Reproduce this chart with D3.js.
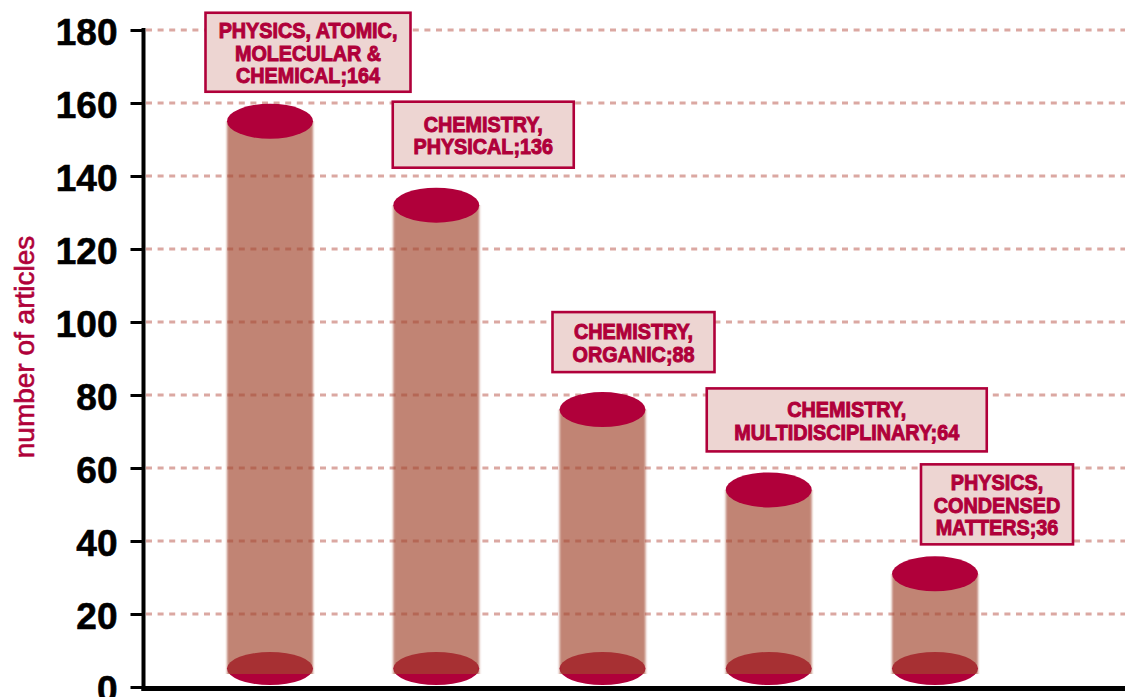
<!DOCTYPE html>
<html>
<head>
<meta charset="utf-8">
<script src="https://cdn.jsdelivr.net/npm/d3@7"></script>
<style>
  body { margin: 0; background: #fff; }
  svg { display: block; }
</style>
</head>
<body>
<div id="chart"></div>
<script>
// data
var categories = ["PHYSICS, ATOMIC, MOLECULAR & CHEMICAL", "CHEMISTRY, PHYSICAL", "CHEMISTRY, ORGANIC",
  "CHEMISTRY, MULTIDISCIPLINARY", "PHYSICS, CONDENSED MATTERS"];
var counts = [164, 136, 88, 64, 36];             // numbers printed in the labels
var levels = [155, 132, 76, 54, 31];             // level on the axis that each cylinder top reaches
var labelLines = [
  ["PHYSICS, ATOMIC,", "MOLECULAR &", "CHEMICAL"],
  ["CHEMISTRY,", "PHYSICAL"],
  ["CHEMISTRY,", "ORGANIC"],
  ["CHEMISTRY,", "MULTIDISCIPLINARY"],
  ["PHYSICS,", "CONDENSED", "MATTERS"]
];
var yTicks = [0, 20, 40, 60, 80, 100, 120, 140, 160, 180];

// label box layout (offset from cylinder centre, box size, gap above the cylinder)
var boxLayout = [
  { dx: 38, w: 205, h: 79, gap: 12 },
  { dx: 47, w: 181, h: 66, gap: 20 },
  { dx: 31, w: 162, h: 60, gap: 20 },
  { dx: 78, w: 280, h: 63, gap: 21 },
  { dx: 62, w: 152, h: 80, gap: 12 }
];

var svgWidth = 1125;
var svgHeight = 697;
var crimson = "#b0003a";

var svg = d3.select("#chart").append("svg")
  .attr("width", svgWidth)
  .attr("height", svgHeight);

var defs = svg.append("defs");
defs.append("filter")
  .attr("id", "soft")
  .attr("x", "-10%").attr("width", "120%")
  .append("feGaussianBlur")
  .attr("stdDeviation", "1.3 0.6");

// scales
var yScale = d3.scaleLinear().domain([0, 180]).range([687, 30]);
var xScale = d3.scalePoint().domain(categories).range([270, 935]);

var rx = 43, ry = 17.5;
var baseY = yScale(0) - 18.5;

// gridlines
svg.append("g")
  .selectAll("line")
  .data(yTicks.filter(d => d > 0))
  .enter()
  .append("line")
  .attr("x1", 146)
  .attr("x2", svgWidth)
  .attr("y1", d => yScale(d))
  .attr("y2", d => yScale(d))
  .attr("stroke", "#dba8a2")
  .attr("stroke-width", 3.2)
  .attr("stroke-dasharray", "6 5.6");

// cylinders
var cyl = svg.append("g")
  .selectAll("g")
  .data(categories)
  .enter()
  .append("g");

cyl.append("ellipse")
  .attr("cx", d => xScale(d))
  .attr("cy", baseY)
  .attr("rx", rx)
  .attr("ry", ry - 1)
  .attr("fill", crimson);

cyl.append("rect")
  .attr("x", d => xScale(d) - rx)
  .attr("width", rx * 2)
  .attr("y", (d, i) => yScale(levels[i]))
  .attr("height", (d, i) => baseY + 5.5 - yScale(levels[i]))
  .attr("fill", "#a3492e")
  .attr("fill-opacity", 0.67)
  .attr("filter", "url(#soft)");

cyl.append("ellipse")
  .attr("cx", d => xScale(d))
  .attr("cy", (d, i) => yScale(levels[i]))
  .attr("rx", rx)
  .attr("ry", ry)
  .attr("fill", crimson);

// y axis
var yAxis = d3.axisLeft(yScale)
  .tickValues(yTicks)
  .tickSize(13)
  .tickPadding(13)
  .tickFormat(d3.format("d"));

var axisG = svg.append("g")
  .attr("transform", "translate(143.5, 0)")
  .call(yAxis);

axisG.select(".domain")
  .attr("d", "M0,28V691")
  .attr("stroke", "#000")
  .attr("stroke-width", 4);

axisG.selectAll(".tick line")
  .attr("stroke", "#000")
  .attr("stroke-width", 3);

axisG.selectAll(".tick text")
  .attr("fill", "#000")
  .attr("stroke", "#000")
  .attr("stroke-width", 0.6)
  .attr("dy", "0.38em")
  .style("font-family", "'Liberation Sans', Arial, sans-serif")
  .style("font-size", "37px")
  .style("font-weight", "bold");

// x axis line
svg.append("line")
  .attr("x1", 141.5)
  .attr("x2", svgWidth)
  .attr("y1", 688.5)
  .attr("y2", 688.5)
  .attr("stroke", "#000")
  .attr("stroke-width", 5);

// y axis title
svg.append("text")
  .attr("transform", "translate(34, 347) rotate(-90)")
  .attr("text-anchor", "middle")
  .attr("fill", crimson)
  .attr("stroke", crimson)
  .attr("stroke-width", 0.6)
  .style("font-family", "'Liberation Sans', Arial, sans-serif")
  .style("font-size", "28px")
  .text("number of articles");

// label boxes
var notes = svg.append("g")
  .selectAll("g")
  .data(categories)
  .enter()
  .append("g")
  .attr("transform", function(d, i) {
    var b = boxLayout[i];
    var top = yScale(levels[i]) - ry - b.gap - b.h;
    return `translate(${xScale(d) + b.dx - b.w / 2}, ${top})`;
  });

notes.append("rect")
  .attr("width", (d, i) => boxLayout[i].w)
  .attr("height", (d, i) => boxLayout[i].h)
  .attr("fill", "#edd5d2")
  .attr("stroke", crimson)
  .attr("stroke-width", 2.6);

notes.each(function(d, i) {
  var b = boxLayout[i];
  var lines = labelLines[i].slice();
  lines[lines.length - 1] += ";" + counts[i];
  var lineH = 22.5;
  // condensed look: squeeze a bold face horizontally
  var t = d3.select(this).append("text")
    .attr("transform", `translate(${b.w / 2}, 0) scale(0.9, 1)`)
    .attr("text-anchor", "middle")
    .attr("fill", crimson)
    .attr("stroke", crimson)
    .attr("stroke-width", 1.0)
    .style("font-family", "'Liberation Sans', Arial, sans-serif")
    .style("font-size", "22px")
    .style("font-weight", "bold");
  t.selectAll("tspan")
    .data(lines)
    .enter()
    .append("tspan")
    .attr("x", 0)
    .attr("y", (l, k) => b.h / 2 + (k - (lines.length - 1) / 2) * lineH + 8.5)
    .text(l => l);
});
</script>
</body>
</html>
